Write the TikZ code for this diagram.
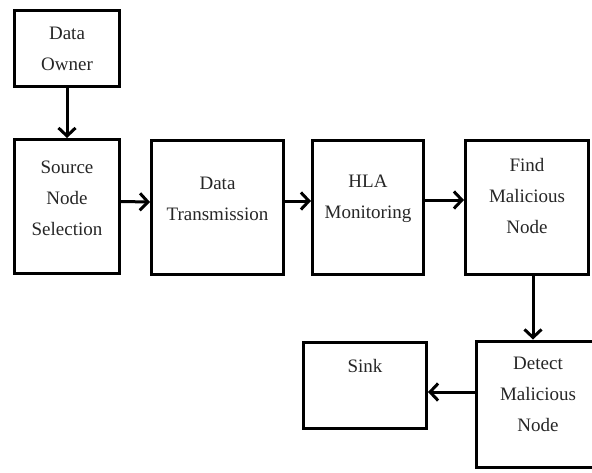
\documentclass[tikz,border=0pt]{standalone}
\usepackage{fontspec}
\setmainfont{Liberation Serif}
\usepackage{tikz}
\usetikzlibrary{arrows.meta}

\begin{document}
\begin{tikzpicture}[x=1pt, y=-1pt,
    box/.style={draw, line width=3pt, inner sep=0pt},
    lbl/.style={align=center, inner sep=0pt, text=black!85, font=\fontsize{19}{31}\selectfont},
    arr/.style={line width=3pt, -{Straight Barb[length=8pt, width=17pt]}}]
    \clip (0,0) rectangle (592,472);
    \node[box, minimum width=105pt, minimum height=76pt] (own) at (67,48.5) {};
    \node[lbl] (ownT) at (67,49) {Data\\Owner};
    \node[box, minimum width=105pt, minimum height=134pt] (src) at (67,206.5) {};
    \node[lbl] (srcT) at (67,198) {Source\\Node\\Selection};
    \node[box, minimum width=132pt, minimum height=134pt] (trans) at (217.5,207) {};
    \node[lbl] (transT) at (217.5,199) {Data\\Transmission};
    \node[box, minimum width=111pt, minimum height=134pt] (hla) at (368,207) {};
    \node[lbl] (hlaT) at (368,199) {HLA\\Monitoring};
    \node[box, minimum width=123pt, minimum height=134pt] (find) at (527,207) {};
    \node[lbl] (findT) at (527,196) {Find\\Malicious\\Node};
    \node[box, minimum width=123pt, minimum height=86pt] (sink) at (365,385.5) {};
    \node[lbl] (sinkT) at (365,366) {Sink};
    \node[box, minimum width=123pt, minimum height=126pt] (det) at (538,404) {};
    \node[lbl] (detT) at (538,394) {Detect\\Malicious\\Node};

    \draw[arr] (own) -- (src);
    \draw[arr] ([yshift=5pt]src.east) -- ([yshift=5pt]trans.west);
    \draw[arr] ([yshift=6pt]trans.east) -- ([yshift=6pt]hla.west);
    \draw[arr] ([yshift=7pt]hla.east) -- ([yshift=7pt]find.west);
    \draw[arr] ([xshift=6pt]find.south) -- ([xshift=6pt]find.south |- det.north);
    \draw[arr] ([yshift=12pt]det.west) -- ([yshift=12pt]det.west -| sink.east);
\end{tikzpicture}
\end{document}
